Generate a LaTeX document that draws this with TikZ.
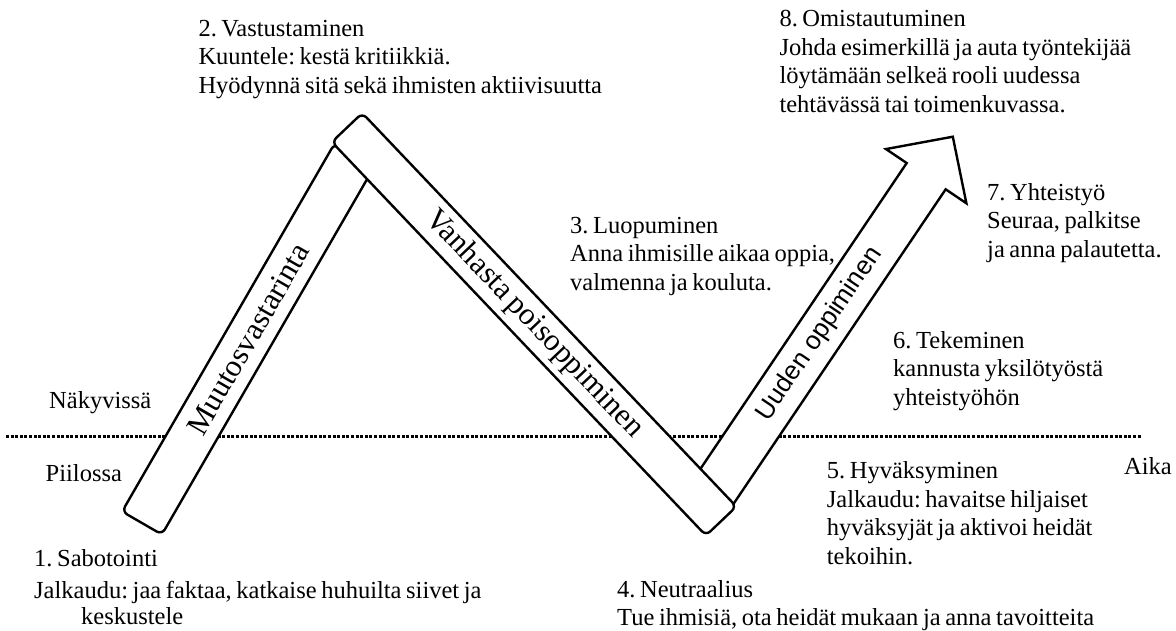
\documentclass[tikz,border=0pt]{standalone}
\usepackage{fontspec}
\setmainfont{Liberation Serif}[WordSpace=0.75]
\newfontfamily\sansarial{Liberation Sans}
\begin{document}
\begin{tikzpicture}[x=1pt,y=-1pt,
  lbl/.style={anchor=north west, inner sep=0pt, align=left, font=\fontsize{24.5}{28.6}\selectfont\frenchspacing},
  bar/.style={draw, fill=white, line width=2.4pt, rounded corners=6pt, inner sep=0pt},
  bartext/.style={font=\fontsize{31}{36}\selectfont},
  arrowbody/.style={draw, fill=white, line width=2.4pt, line join=miter},
  dotline/.style={line width=3pt, dash pattern=on 3pt off 1.6pt}
]
\useasboundingbox (0,0) rectangle (1176,630);
% horizon line
\coordinate (dl) at (6,436);
\coordinate (dr) at (1142,436);
\draw[dotline] (dl) -- (dr);
% bar 1
\node[bar, bartext, rotate=60, minimum width=425pt, minimum height=46pt] (b1) at (248.25,339) {Muutosvastarinta};
% arrow
\begin{scope}[shift={(708.1,499.5)}, rotate=56, x=1pt, y=1pt]
  \draw[arrowbody] (0,-23.5) -- (390,-23.5) -- (390,-48.5) -- (437.6,0) -- (390,48.5) -- (390,23.5) -- (0,23.5) -- cycle;
  \node[transform shape, inner sep=0pt, font=\sansarial\fontsize{26}{30}\selectfont] (uo) at (199.5,0) {Uuden oppiminen};
\end{scope}
% bar 2
\node[bar, bartext, rotate=-46.45, minimum width=543pt, minimum height=42pt] (b2) at (534.1,324.3) {Vanhasta poisoppiminen};
% labels
\node[lbl] (n2) at (198.3,16) {\strut 2. Vastustaminen\\Kuuntele: kestä kritiikkiä.\\Hyödynnä sitä sekä ihmisten aktiivisuutta};
\node[lbl] (n8) at (779.3,6.3) {\strut 8. Omistautuminen\\Johda esimerkillä ja auta työntekijää\\löytämään selkeä rooli uudessa\\tehtävässä tai toimenkuvassa.};
\node[lbl] (n7) at (987,180) {\strut 7. Yhteistyö\\Seuraa, palkitse\\ja anna palautetta.};
\node[lbl] (n3) at (570,213) {\strut 3. Luopuminen\\Anna ihmisille aikaa oppia,\\valmenna ja kouluta.};
\node[lbl] (n6) at (893,328) {\strut 6. Tekeminen\\kannusta yksilötyöstä\\yhteistyöhön};
\node[lbl] (vis) at (49,388.3) {\strut Näkyvissä};
\node[lbl] (hid) at (45.5,461.7) {\strut Piilossa};
\node[lbl] (aika) at (1124,454) {\strut Aika};
\node[lbl] (n5) at (826.7,458.5) {\strut 5. Hyväksyminen\\Jalkaudu: havaitse hiljaiset\\hyväksyjät ja aktivoi heidät\\tekoihin.};
\node[lbl] (n1) at (34,546) {\strut 1. Sabotointi\\[3.4pt]Jalkaudu: jaa faktaa, katkaise huhuilta siivet ja\\[-2.6pt]\hspace*{47pt}keskustele};
\node[lbl] (n4) at (617,577) {\strut 4. Neutraalius\\Tue ihmisiä, ota heidät mukaan ja anna tavoitteita};
\end{tikzpicture}
\end{document}
